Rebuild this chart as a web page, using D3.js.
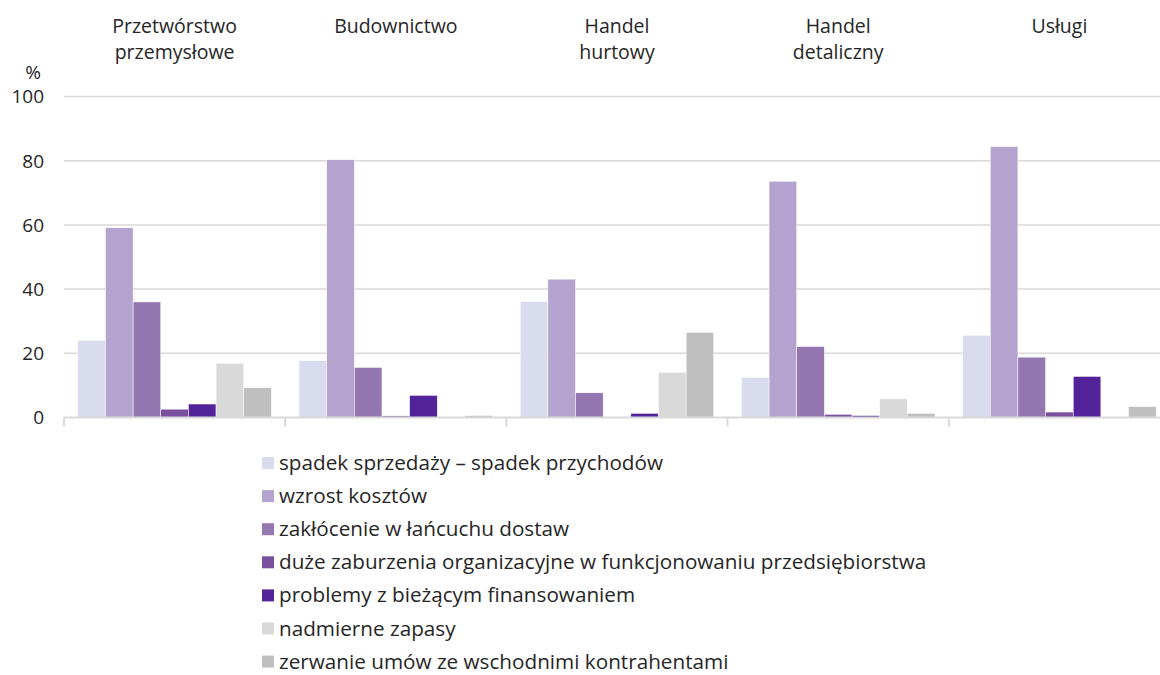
<!DOCTYPE html>
<html lang="pl">
<head>
<meta charset="utf-8">
<script src="https://cdn.jsdelivr.net/npm/d3@7"></script>
<style>
    html, body { margin: 0; padding: 0; background: #fff; }
    svg { display: block; font-family: "Open Sans", "Noto Sans", sans-serif; }
    .tick-label, .cat-label, .legend-label, .unit { fill: #262626; }
</style>
</head>
<body>
<svg id="chart"></svg>
<script>
// ── Data ─────────────────────────────────────────────────────────
const categories = [
    ['Przetwórstwo', 'przemysłowe'],
    ['Budownictwo'],
    ['Handel', 'hurtowy'],
    ['Handel', 'detaliczny'],
    ['Usługi']
];

const seriesNames = [
    'spadek sprzedaży – spadek przychodów',
    'wzrost kosztów',
    'zakłócenie w łańcuchu dostaw',
    'duże zaburzenia organizacyjne w funkcjonowaniu przedsiębiorstwa',
    'problemy z bieżącym finansowaniem',
    'nadmierne zapasy',
    'zerwanie umów ze wschodnimi kontrahentami'
];

// one array per series, values in the order of `categories`
const spadekSprzedazy   = [24.0, 17.7, 36.1, 12.5, 25.6];
const wzrostKosztow     = [59.1, 80.3, 43.1, 73.6, 84.4];
const zaklocenieDostaw  = [36.0, 15.6,  7.7, 22.1, 18.8];
const zaburzeniaOrg     = [ 2.6,  0.5,  0.0,  1.0,  1.7];
const problemyFinans    = [ 4.2,  6.9,  1.3,  0.6, 12.8];
const nadmierneZapasy   = [16.9,  0.0, 14.1,  5.8,  0.0];
const zerwanieUmow      = [ 9.3,  0.6, 26.5,  1.3,  3.4];

const yTicks = [0, 20, 40, 60, 80, 100];

const seriesValues = [
    spadekSprzedazy, wzrostKosztow, zaklocenieDostaw, zaburzeniaOrg,
    problemyFinans, nadmierneZapasy, zerwanieUmow
];

const colors = ['#d9dbef', '#b4a3cf', '#9477b1', '#7a4f9d', '#53239a', '#d9d9d9', '#bfbfbf'];

// ── Layout ───────────────────────────────────────────────────────
const W = 1160, H = 675;
const plot = { left: 64, right: 1170, top: 96.5, bottom: 417.5 };

const svg = d3.select('#chart').attr('width', W).attr('height', H);

const x0 = d3.scaleBand()
    .domain(d3.range(categories.length))
    .range([plot.left, plot.right])
    .padding(0);

const x1 = d3.scaleBand()
    .domain(d3.range(seriesNames.length))
    .range([0, x0.bandwidth()])
    .paddingInner(0)
    .paddingOuter(0.5);

const y = d3.scaleLinear().domain([0, 100]).range([plot.bottom, plot.top]);

// ── Grid + y labels ──────────────────────────────────────────────
svg.append('g').selectAll('line')
    .data(yTicks.filter(t => t > 0))
    .join('line')
    .attr('x1', plot.left).attr('x2', W)
    .attr('y1', d => y(d)).attr('y2', d => y(d))
    .attr('stroke', '#d9d9d9').attr('stroke-width', 1.5);

svg.append('g').selectAll('text')
    .data(yTicks)
    .join('text')
    .attr('class', 'tick-label')
    .attr('x', 44).attr('y', d => y(d))
    .attr('dy', '0.36em')
    .attr('text-anchor', 'end')
    .attr('font-size', 19)
    .text(d => d);

svg.append('text').attr('class', 'unit')
    .attr('x', 33).attr('y', 79)
    .attr('text-anchor', 'middle')
    .attr('font-size', 19)
    .text('%');

// ── Bars ─────────────────────────────────────────────────────────
const groups = svg.append('g').selectAll('g')
    .data(categories.map((c, i) => i))
    .join('g')
    .attr('transform', i => `translate(${x0(i)},0)`);

groups.selectAll('rect')
    .data(i => seriesValues.map((vals, s) => ({ s, v: vals[i] })))
    .join('rect')
    .attr('x', d => x1(d.s))
    .attr('width', x1.bandwidth())
    .attr('y', d => y(d.v))
    .attr('height', d => y(0) - y(d.v))
    .attr('fill', d => colors[d.s])
    .attr('stroke', d => d.v > 0 ? '#ffffff' : 'none')
    .attr('stroke-width', 0.5);

// ── x axis (baseline + group separators) ─────────────────────────
const axis = svg.append('g');
axis.append('line')
    .attr('x1', plot.left).attr('x2', W)
    .attr('y1', y(0)).attr('y2', y(0))
    .attr('stroke', '#d9d9d9').attr('stroke-width', 2);

axis.selectAll('line.sep')
    .data(d3.range(categories.length + 1).map(i => plot.left + i * x0.step()))
    .join('line')
    .attr('class', 'sep')
    .attr('x1', d => d).attr('x2', d => d)
    .attr('y1', y(0)).attr('y2', y(0) + 9)
    .attr('stroke', '#d9d9d9').attr('stroke-width', 2);

// ── Category labels above the plot ───────────────────────────────
svg.append('g').selectAll('text')
    .data(categories.map((c, i) => ({ c, i })))
    .join('text')
    .attr('class', 'cat-label')
    .attr('text-anchor', 'middle')
    .attr('font-size', 19.5)
    .each(function(d) {
        const t = d3.select(this);
        d.c.forEach((line, k) => {
            t.append('tspan')
                .attr('x', x0(d.i) + x0.bandwidth() / 2)
                .attr('y', 33 + k * 26)
                .text(line);
        });
    });

// ── Legend ───────────────────────────────────────────────────────
// rows kept a touch tighter so the last label's descenders stay on the page
const legend = svg.append('g').attr('transform', 'translate(262,463)');
const rows = legend.selectAll('g')
    .data(seriesNames.map((name, s) => ({ name, s })))
    .join('g')
    .attr('transform', d => `translate(0,${d.s * 33.1})`);

rows.append('rect')
    .attr('x', 0).attr('y', -6)
    .attr('width', 12).attr('height', 12)
    .attr('fill', d => colors[d.s]);

rows.append('text')
    .attr('class', 'legend-label')
    .attr('x', 17).attr('dy', '0.34em')
    .attr('font-size', 20.7)
    .text(d => d.name);
</script>
</body>
</html>
